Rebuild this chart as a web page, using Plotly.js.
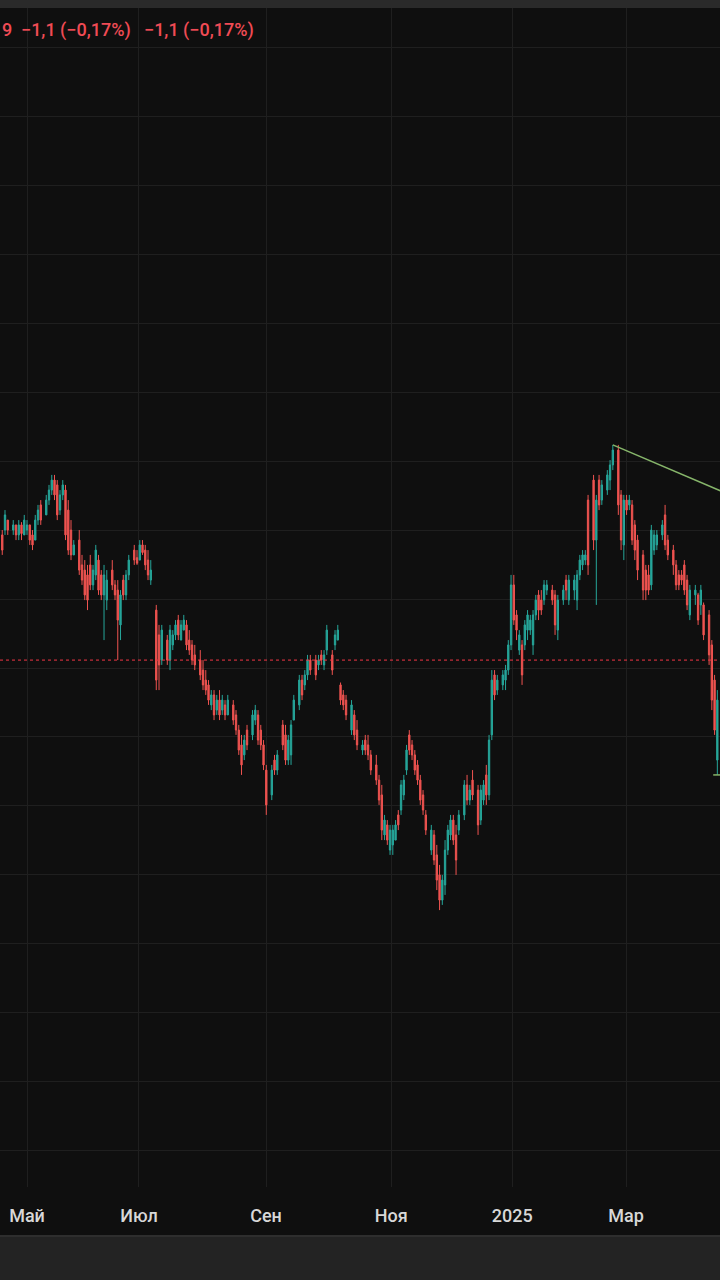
<!DOCTYPE html>
<html>
<head>
<meta charset="utf-8">
<script src="https://cdn.plot.ly/plotly-3.0.1.min.js"></script>
<style>
html,body{margin:0;padding:0;background:#0f0f0f;}
#chart{width:720px;height:1280px;}
</style>
</head>
<body>
<div id="chart"></div>
<script>
// trading-day index (0 = first trading day of May 2024)
const day = [-9,-8,-7,-5,-4,-3,-2,-1,0,1,2,3,4,5,7,8,9,10,11,12,13,14,15,16,17,19,20,21,22,23,24,25,26,27,28,29,31,32,33,34,
35,36,37,39,40,41,42,43,44,45,47,48,49,51,52,53,54,55,56,57,58,59,60,61,63,64,65,66,67,68,69,70,71,72,73,
75,76,77,78,79,80,82,83,84,85,86,87,89,90,91,93,94,95,96,97,99,100,101,102,103,105,106,107,108,109,111,112,113,114,115,116,118,119,120,
122,123,124,125,127,128,129,130,131,132,133,134,135,136,137,138,139,140,141,142,143,144,145,147,148,149,150,151,152,153,154,155,156,157,159,160,161,162,164,165,166,167,168,169,
170,171,173,174,175,176,177,178,179,180,181,182,183,184,185,186,187,188,189,191,192,193,195,196,197,199,200,201,202,203,204,206,207,208,209,211,212,213,
215,216,217,218,219,220,221,222,224,225,226,227,228,229,231,232,233,235,236,237,238,239,240,241,243,244,245,246,248,249,250,251];

const open = [678.6,680.0,682.9,680.0,681.5,678.6,681.5,678.6,680.0,681.5,678.6,677.1,682.9,687.3,684.4,688.7,691.6,694.5,693.1,685.8,690.2,691.6,685.8,680.0,672.8,677.1,669.9,668.4,667.0,669.9,664.1,667.0,671.3,667.0,661.2,659.7,668.4,664.1,662.6,652.5,
665.5,661.2,667.0,674.2,672.0,671.3,675.7,674.2,671.3,665.5,656.8,649.6,642.3,648.1,642.3,646.7,649.6,653.9,648.1,651.0,652.5,648.1,646.7,643.8,642.3,639.4,636.5,635.1,629.3,632.2,627.8,630.7,627.8,629.3,626.4,
629.3,626.4,622.0,617.7,614.8,622.0,620.6,624.9,626.4,622.0,617.7,610.4,603.2,613.3,610.4,623.5,620.6,613.3,614.8,624.9,629.3,636.5,635.1,638.0,642.3,642.3,640.9,643.8,640.9,645.2,643.8,646.7,648.1,635.1,632.2,630.7,622.0,626.4,622.0,
616.2,619.1,617.7,614.8,611.9,607.5,603.2,591.6,594.5,587.2,588.7,590.1,597.4,598.8,603.2,610.4,620.6,617.7,614.8,611.9,607.5,603.2,597.4,587.2,591.6,585.8,580.0,572.7,577.1,587.2,591.6,595.9,591.6,593.0,597.4,606.1,601.7,607.5,604.6,595.9,601.7,609.0,603.2,620.6,
638.0,633.6,635.1,636.5,639.4,646.7,664.1,655.4,645.2,646.7,646.7,651.0,651.0,646.7,655.4,661.2,659.7,659.7,662.6,662.6,661.2,651.0,659.7,665.5,659.7,662.6,659.7,667.0,669.9,671.3,688.7,694.5,677.1,694.5,688.7,691.6,694.5,698.9,
703.2,690.2,675.7,688.7,687.3,687.3,681.5,677.1,672.8,668.4,667.0,664.1,674.2,675.7,678.6,684.4,677.1,674.2,669.9,667.0,667.0,669.9,665.5,655.4,661.2,661.2,658.3,658.3,655.4,646.7,636.5,613.3];

const high = [680.0,685.8,682.9,682.9,681.5,682.9,682.3,684.4,682.9,681.5,680.0,684.4,687.3,688.7,690.2,693.1,696.0,696.0,694.5,691.6,694.5,693.1,688.7,682.9,677.1,680.0,672.8,671.3,669.9,672.8,669.9,675.7,672.8,668.4,669.9,668.4,671.3,665.5,665.5,662.6,
667.0,668.4,672.8,675.7,674.2,677.1,677.1,675.7,674.2,671.3,658.3,652.5,652.5,649.6,652.5,651.0,653.9,655.4,653.9,655.4,653.9,651.0,648.1,646.7,645.2,642.3,639.4,636.5,633.6,633.6,632.2,633.6,632.2,630.7,632.2,
630.7,627.8,623.5,620.6,620.6,623.5,627.8,629.3,627.8,623.5,619.1,611.9,611.9,614.8,616.2,624.9,623.5,620.6,624.9,632.2,638.0,638.0,639.4,643.8,643.8,643.8,643.8,645.2,645.2,652.5,645.2,651.0,652.5,635.8,633.6,632.2,630.7,627.8,624.9,
619.1,620.6,620.6,616.2,614.8,609.0,606.1,597.4,595.9,594.5,594.5,595.9,598.8,607.5,609.0,617.7,622.0,619.1,616.2,613.3,609.0,604.6,598.8,594.5,593.0,588.7,582.9,580.0,590.1,594.5,597.4,597.4,594.5,598.8,607.5,609.0,606.1,610.4,606.1,606.1,607.5,611.9,620.6,639.4,
639.4,638.0,639.4,640.9,648.1,667.0,667.0,656.8,651.0,648.1,653.9,656.8,655.4,656.8,661.2,662.6,662.6,665.5,665.5,664.1,662.6,661.2,664.1,667.0,667.0,667.0,668.4,672.8,674.2,674.2,690.2,696.0,690.2,696.0,694.5,697.4,700.3,704.7,
704.7,691.6,690.2,690.2,690.2,688.7,682.9,678.6,674.2,669.9,669.9,681.5,680.0,680.0,682.9,687.3,678.6,675.7,671.3,668.4,668.4,671.3,667.0,664.1,664.1,661.8,664.1,659.0,656.8,648.1,638.0,633.6];

const low = [672.8,678.6,678.6,678.6,677.1,677.1,677.1,678.6,678.6,675.7,674.2,677.1,681.5,681.5,684.4,687.3,690.2,688.7,682.9,684.4,688.7,677.1,672.8,671.3,672.8,667.0,664.1,659.7,656.8,662.6,662.6,665.5,661.2,659.7,648.1,656.8,662.6,659.7,642.3,648.1,
659.7,659.7,665.5,669.9,669.9,671.3,672.8,668.4,665.5,664.1,633.6,633.6,640.9,640.9,639.4,645.2,648.1,648.1,648.1,651.0,645.2,643.8,640.9,639.4,636.5,633.6,632.2,629.3,627.8,624.9,626.4,624.9,626.4,624.9,626.4,
623.5,620.6,614.8,609.0,613.3,616.2,619.1,623.5,617.7,616.2,610.4,597.4,601.7,609.0,609.0,616.2,611.9,611.9,611.9,624.9,627.8,630.7,633.6,636.5,638.0,636.5,639.4,640.9,639.4,643.8,638.0,645.2,648.1,629.3,627.8,624.9,620.6,619.1,616.2,
614.8,614.8,613.3,609.0,606.1,600.3,590.1,590.1,588.7,585.8,585.8,590.1,593.0,597.4,601.7,609.0,614.8,613.3,609.0,606.1,600.3,597.4,591.6,585.8,582.9,575.6,569.8,571.3,574.2,585.8,590.1,588.7,580.0,591.6,595.9,600.3,600.3,601.7,591.6,594.5,600.3,600.3,601.7,619.1,
630.7,632.2,633.6,633.6,638.0,645.2,652.5,648.1,643.8,635.1,645.2,648.1,649.6,643.8,653.9,653.9,655.4,658.3,661.2,658.3,649.6,648.1,658.3,659.7,658.3,659.7,656.8,665.5,668.4,669.9,667.0,674.2,658.3,685.8,687.3,690.2,691.6,697.4,
684.4,674.2,671.3,684.4,685.8,675.7,671.3,665.5,659.7,659.7,661.2,662.6,672.8,674.2,677.1,674.2,671.3,667.0,662.6,662.6,664.1,661.2,656.8,653.9,658.3,652.5,655.4,648.1,640.9,627.8,620.6,609.0];

const close = [674.2,684.4,680.0,681.5,678.6,681.5,679.0,682.9,681.5,677.1,675.7,682.9,685.8,682.9,688.7,691.6,694.5,690.2,684.4,690.2,693.1,678.6,674.2,672.8,675.7,668.4,665.5,661.2,659.7,664.1,668.4,674.2,662.6,661.2,667.0,665.5,664.1,661.2,653.9,661.2,
661.2,667.0,671.3,671.3,670.4,675.7,673.5,669.9,667.0,668.4,636.5,640.9,651.0,642.3,651.0,649.6,652.5,649.6,652.5,653.9,646.7,645.2,642.3,640.9,638.0,635.1,633.6,630.7,632.2,626.4,630.7,626.4,630.7,626.4,630.7,
624.9,622.0,616.2,611.9,619.1,617.7,626.4,627.8,619.1,617.7,611.9,600.3,610.4,610.4,614.8,617.7,613.3,619.1,623.5,630.7,636.5,632.2,638.0,642.3,639.4,638.0,642.3,642.3,643.8,651.0,639.4,649.6,651.0,630.7,629.3,626.4,629.3,620.6,617.7,
617.7,616.2,614.8,610.4,607.5,601.7,593.0,595.9,590.1,593.0,593.0,594.5,594.5,606.1,607.5,616.2,616.2,614.8,610.4,607.5,601.7,598.8,593.0,593.0,584.3,578.5,572.7,578.5,587.2,593.0,595.9,590.1,584.3,597.4,606.1,601.7,604.6,603.2,594.5,604.6,606.1,603.2,619.1,636.5,
632.2,636.5,638.0,639.4,646.7,664.1,653.9,651.0,649.6,638.0,652.5,655.4,653.9,655.4,659.7,656.8,656.8,664.1,664.1,659.7,652.5,659.7,662.6,662.6,665.5,665.5,667.0,671.3,672.8,672.8,669.9,677.1,688.7,687.3,693.1,696.0,698.9,703.2,
687.3,677.1,688.7,685.8,688.7,677.1,674.2,668.4,662.6,662.6,662.6,680.0,678.6,678.6,681.5,675.7,672.8,669.9,664.1,664.1,665.5,662.6,658.3,662.6,662.6,653.9,662.6,649.6,643.8,630.7,622.0,630.7];

// month ticks (trading-day index)
const tickDays = [0, 40.7, 86.9, 132.4, 176.4, 217.8];
const tickLabels = ['Май', 'Июл', 'Сен', 'Ноя', '2025', 'Мар'];

// drawings
const trendDay = [213, 260];
const trendPrice = [704.7, 688.7];
const supportDay = [249.5, 260];
const supportPrice = [609.0, 609.0];
const lastPrice = 642.3;

const headerChange = ['9', '\u22121,1 (\u22120,17%)', '\u22121,1 (\u22120,17%)'];
const headerPos = [0, 19, 142];

const RED = '#ef5350', GREEN = '#26a69a', GRID = '#1f1f1f', BG = '#0f0f0f';

const traces = [
  {
    type: 'candlestick', x: day, open: open, high: high, low: low, close: close,
    increasing: {line: {color: GREEN, width: 1}, fillcolor: GREEN},
    decreasing: {line: {color: RED, width: 1}, fillcolor: RED},
    whiskerwidth: 0, hoverinfo: 'skip', showlegend: false
  },
  {
    type: 'scatter', mode: 'lines', x: trendDay, y: trendPrice,
    line: {color: '#86b56a', width: 1.5}, hoverinfo: 'skip', showlegend: false
  },
  {
    type: 'scatter', mode: 'lines', x: supportDay, y: supportPrice,
    line: {color: '#86b56a', width: 1.5}, hoverinfo: 'skip', showlegend: false
  }
];

const H = 1280, T = 8, B = 93;
const plotH = H - T - B;
const pxToPaperY = px => (H - B - px) / plotH;

const annotations = headerChange.map((t, i) => ({
  xref: 'paper', yref: 'paper', x: headerPos[i] / 720, y: pxToPaperY(30),
  xanchor: 'left', yanchor: 'middle', showarrow: false, text: t,
  font: {family: 'Roboto', size: 18, color: '#f04b55', weight: 500}
}));

const layout = {
  width: 720, height: 1280,
  margin: {l: 0, r: 0, t: T, b: B, pad: 0},
  paper_bgcolor: BG, plot_bgcolor: BG,
  showlegend: false,
  xaxis: {
    type: 'linear', range: [-9.82, 251.97], fixedrange: true,
    tickmode: 'array', tickvals: tickDays, ticktext: tickLabels,
    showgrid: true, gridcolor: GRID, gridwidth: 1, zeroline: false, showline: false,
    ticks: '', ticklabelstandoff: 16,
    tickfont: {family: 'Roboto', size: 18, color: '#d8d8d8', weight: 500},
    rangeslider: {visible: false}
  },
  yaxis: {
    range: [489.5, 831.4], fixedrange: true, tick0: 0, dtick: 20,
    showticklabels: false, showgrid: true, gridcolor: GRID, gridwidth: 1,
    zeroline: false, showline: false, ticks: ''
  },
  shapes: [
    {type: 'line', xref: 'paper', x0: 0, x1: 1, yref: 'y', y0: lastPrice, y1: lastPrice,
     line: {color: '#f23645', width: 1, dash: 'dot'}, layer: 'above'},
    {type: 'rect', xref: 'paper', x0: 0, x1: 1, yref: 'paper', y0: 1, y1: 1.02,
     fillcolor: '#2a2a2a', line: {width: 0}},
    {type: 'rect', xref: 'paper', x0: 0, x1: 1, yref: 'paper', y0: -0.1, y1: pxToPaperY(1237),
     fillcolor: '#232323', line: {width: 0}},
    {type: 'line', xref: 'paper', x0: 0, x1: 1, yref: 'paper', y0: pxToPaperY(1236), y1: pxToPaperY(1236),
     line: {color: '#2e2e2e', width: 2}}
  ],
  annotations: annotations
};

Plotly.newPlot('chart', traces, layout, {staticPlot: true, displayModeBar: false});
</script>
</body>
</html>
